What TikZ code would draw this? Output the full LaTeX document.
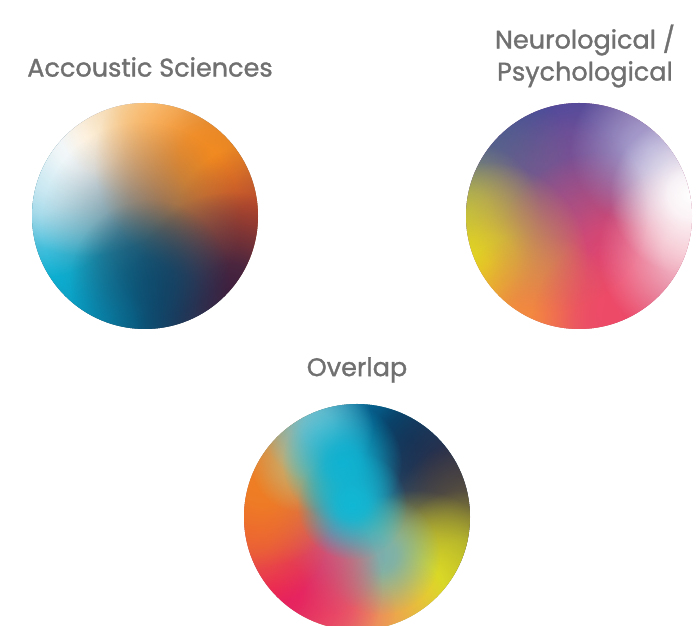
\documentclass[tikz,border=0pt]{standalone}
\usepackage{fontspec}
\setmainfont{Poppins}
\newfontfamily\titlefont{Poppins}[FakeBold=1.2]
\usetikzlibrary{fadings,positioning}
\definecolor{labelgray}{RGB}{112,112,112}
% acoustic
\definecolor{acwhite}{RGB}{255,255,255}
\definecolor{accream}{RGB}{252,214,156}
\definecolor{acorange}{RGB}{246,139,30}
\definecolor{acrust}{RGB}{192,72,42}
\definecolor{acplum}{RGB}{64,32,63}
\definecolor{acnavy}{RGB}{5,70,106}
\definecolor{acsky}{RGB}{143,208,229}
\definecolor{accyan}{RGB}{10,181,216}
\definecolor{acteal}{RGB}{10,127,168}
\definecolor{acdusk}{RGB}{100,96,104}
\definecolor{acbase}{RGB}{96,90,96}
% neuro
\definecolor{nrblue}{RGB}{54,71,157}
\definecolor{nrpurple}{RGB}{107,79,154}
\definecolor{nrslate}{RGB}{80,100,140}
\definecolor{nrolive}{RGB}{154,170,96}
\definecolor{nryellow}{RGB}{236,228,21}
\definecolor{nrorange}{RGB}{245,136,64}
\definecolor{nrpink}{RGB}{238,63,109}
\definecolor{nrred}{RGB}{238,74,104}
\definecolor{nrblush}{RGB}{245,184,198}
\definecolor{nrlilac}{RGB}{168,160,207}
\definecolor{nrmauve}{RGB}{164,92,136}
\definecolor{nrbase}{RGB}{172,84,124}
% overlap
\definecolor{ovblue}{RGB}{10,142,192}
\definecolor{ovnavy}{RGB}{0,62,104}
\definecolor{ovink}{RGB}{44,44,72}
\definecolor{ovolive}{RGB}{96,86,62}
\definecolor{ovmoss}{RGB}{160,160,48}
\definecolor{ovyellow}{RGB}{227,225,35}
\definecolor{ovpeach}{RGB}{240,160,80}
\definecolor{ovmagenta}{RGB}{236,26,92}
\definecolor{ovred}{RGB}{236,90,58}
\definecolor{ovorange}{RGB}{240,126,34}
\definecolor{ovkhaki}{RGB}{200,176,112}
\definecolor{ovcyan}{RGB}{16,184,213}
\definecolor{ovsky}{RGB}{120,196,210}
\definecolor{ovmauve}{RGB}{176,144,150}
\definecolor{ovsalmon}{RGB}{232,112,112}
\definecolor{ovgreyteal}{RGB}{120,176,176}
\definecolor{ovbase}{RGB}{150,150,140}

% soft round blob: opaque core, fading rim
\pgfdeclareradialshading{blobshade}{\pgfpointorigin}{color(0bp)=(white); color(7bp)=(white!88!black); color(15bp)=(white!50!black); color(25bp)=(black); color(50bp)=(black)}
\pgfdeclarefading{softblob}{\pgfuseshading{blobshade}}
% blob at picture position (x, y from top), radius, colour
\newcommand{\blob}[4]{\fill[#4, path fading=softblob] ({#1},{626-#2}) circle (#3pt);}

\begin{document}
\begin{tikzpicture}[
  x=1pt, y=1pt,
  disc/.style={circle, inner sep=0pt, minimum size=226pt},
  title/.style={text=labelgray, font=\titlefont\fontsize{25.5}{32}\selectfont, align=center, inner sep=0pt}
]
\useasboundingbox (0,0) rectangle (697,626);

% acoustic sciences
\node[disc, fill=acbase] (acoustic) at (145,410) {};
\begin{scope}
  \clip (acoustic.center) circle (113pt);
  \blob{155}{302}{95}{acnavy}
  \blob{92}{295}{95}{acteal}
  \blob{52}{245}{120}{accyan}
  \blob{40}{188}{90}{acsky}
  \blob{86}{136}{120}{acwhite}
  \blob{150}{106}{95}{accream}
  \blob{210}{162}{115}{acorange}
  \blob{258}{228}{85}{acrust}
  \blob{230}{292}{100}{acplum}
  \blob{142}{222}{100}{acdusk, fill opacity=0.45}
  \blob{150}{280}{80}{acnavy, fill opacity=0.7}
\end{scope}

% neurological / psychological
\node[disc, fill=nrbase] (neuro) at (579,410) {};
\begin{scope}
  \clip (neuro.center) circle (113pt);
  \blob{540}{108}{160}{nrblue}
  \blob{572}{155}{90}{nrpurple}
  \blob{480}{160}{90}{nrslate}
  \blob{470}{212}{70}{nrolive}
  \blob{602}{262}{110}{nrpink}
  \blob{488}{262}{100}{nryellow}
  \blob{535}{322}{90}{nrorange}
  \blob{612}{318}{80}{nrred}
  \blob{650}{148}{80}{nrlilac}
  \blob{688}{252}{90}{nrblush}
  \blob{690}{195}{80}{white}
  \blob{548}{212}{100}{nrmauve, fill opacity=0.45}
\end{scope}

% overlap
\node[disc, fill=ovbase] (overlap) at (357,109) {};
\begin{scope}
  \clip (overlap.center) circle (113pt);
  \blob{285}{435}{100}{ovkhaki}
  \blob{358}{410}{120}{ovblue}
  \blob{412}{440}{100}{ovnavy}
  \blob{458}{475}{100}{ovink}
  \blob{470}{520}{80}{ovolive}
  \blob{462}{560}{70}{ovmoss}
  \blob{415}{590}{100}{ovyellow}
  \blob{372}{622}{80}{ovpeach}
  \blob{335}{610}{60}{ovsalmon}
  \blob{380}{555}{60}{ovgreyteal}
  \blob{325}{555}{60}{ovmauve}
  \blob{272}{588}{110}{ovmagenta}
  \blob{250}{530}{80}{ovred}
  \blob{262}{482}{85}{ovorange}
  \blob{300}{462}{50}{ovkhaki}
  \blob{318}{428}{55}{ovsky}
  \blob{342}{462}{60}{ovcyan!85!ovblue}
  \blob{352}{505}{55}{ovcyan}
\end{scope}

\node[title] (acoustic label) at (150,559) {Accoustic Sciences};
\node[title] (neuro label) at (585,570) {Neurological /\\Psychological};
\node[title] (overlap label) at (357,256) {Overlap};
\end{tikzpicture}
\end{document}
